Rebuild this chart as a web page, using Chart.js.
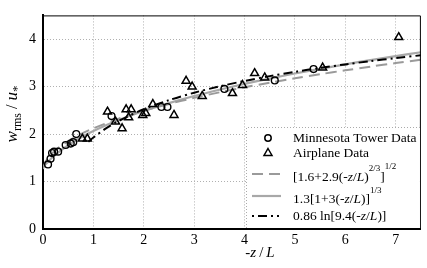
<!DOCTYPE html>
<html>
<head>
<meta charset="utf-8">
<script src="https://cdn.jsdelivr.net/npm/chart.js@4/dist/chart.umd.min.js"></script>
<style>
  html, body { margin: 0; padding: 0; background: #fff; }
  #wrap { width: 427px; height: 268px; position: relative; }
</style>
</head>
<body>
<div id="wrap"><canvas id="wChart"></canvas></div>
<script>
// Minnesota tower data (circles)
const towerX = [0.1, 0.15, 0.18, 0.22, 0.3, 0.45, 0.55, 0.6, 0.66, 1.36, 2.35, 2.47, 3.6, 4.6, 5.37];
const towerY = [1.36, 1.48, 1.6, 1.63, 1.63, 1.77, 1.8, 1.83, 2.0, 2.38, 2.57, 2.57, 2.95, 3.13, 3.37];

// Airplane data (triangles)
const planeX = [0.78, 0.88, 1.28, 1.44, 1.57, 1.65, 1.75, 1.7, 1.98, 2.04, 2.18, 2.6, 2.84, 2.96, 3.16, 3.76, 3.96, 4.2, 4.4, 5.55, 7.06];
const planeY = [1.9, 1.9, 2.47, 2.26, 2.12, 2.52, 2.52, 2.35, 2.4, 2.44, 2.63, 2.4, 3.12, 3.0, 2.8, 2.86, 3.03, 3.28, 3.19, 3.4, 4.04];

// fit curves, values tabulated at these -z/L
const curveX = [0, 0.05, 0.1, 0.2, 0.3, 0.5, 0.75, 1, 1.5, 2, 2.5, 3, 3.5, 4, 4.5, 5, 5.5, 6, 6.5, 7, 7.5];
const fitPowY = [1.265, 1.412, 1.492, 1.610, 1.703, 1.851, 1.999, 2.121, 2.324, 2.491, 2.635, 2.763, 2.878, 2.985, 3.083, 3.175, 3.261, 3.343, 3.421, 3.495, 3.565];
const fitCubeY = [1.300, 1.362, 1.419, 1.521, 1.610, 1.764, 1.926, 2.064, 2.295, 2.487, 2.653, 2.801, 2.934, 3.057, 3.169, 3.276, 3.375, 3.469, 3.558, 3.643, 3.724];
const logX = [0.9, 1, 1.25, 1.5, 2, 2.5, 3, 3.5, 4, 4.5, 5, 5.5, 6, 6.5, 7, 7.5];
const fitLogY = [1.836, 1.927, 2.119, 2.276, 2.523, 2.715, 2.872, 3.004, 3.119, 3.221, 3.311, 3.393, 3.468, 3.537, 3.601, 3.660];

const xTicks = [0, 1, 2, 3, 4, 5, 6, 7];
const yTicks = [0, 1, 2, 3, 4];

const FONT = "'Liberation Serif', 'DejaVu Serif', serif";

function toPoints(xs, ys) {
    return xs.map((x, i) => ({ x: x, y: ys[i] }));
}

function runFont(r, base) {
    const size = r.size || ((r.sup || r.sub) ? Math.round(base * 0.68) : base);
    return (r.italic ? 'italic ' : '') + size + 'px ' + FONT;
}

// draw a line of text made of runs (italic / superscript / subscript)
function drawRuns(ctx, x, y, runs, base) {
    base = base || 13.5;
    ctx.textBaseline = 'middle';
    ctx.textAlign = 'left';
    runs.forEach(r => {
        ctx.font = runFont(r, base);
        let dy = 0;
        if (r.sup) dy = -r.sup;
        if (r.sub) dy = r.sub;
        ctx.fillText(r.t, x, y + dy);
        x += ctx.measureText(r.t).width + (r.gap || 0);
    });
    return x;
}

function runsWidth(ctx, runs, base) {
    base = base || 13.5;
    let w = 0;
    runs.forEach(r => {
        ctx.font = runFont(r, base);
        w += ctx.measureText(r.t).width + (r.gap || 0);
    });
    return w;
}

const extrasPlugin = {
    id: 'extras',
    afterDraw(chart) {
        const ctx = chart.ctx;
        const a = chart.chartArea;
        ctx.save();

        // top and right frame
        ctx.strokeStyle = '#000';
        ctx.lineWidth = 1;
        ctx.beginPath();
        ctx.moveTo(a.left, a.top + 0.5);
        ctx.lineTo(a.right - 0.5, a.top + 0.5);
        ctx.lineTo(a.right - 0.5, a.bottom);
        ctx.stroke();

        // legend box
        const lx = 246, ly = 127, lr = a.right - 1, lb = a.bottom - 1;
        ctx.fillStyle = '#fff';
        ctx.fillRect(lx, ly, lr - lx, lb - ly);
        ctx.strokeStyle = '#aaa';
        ctx.setLineDash([1, 2]);
        ctx.beginPath();
        ctx.moveTo(lx + 0.5, lb);
        ctx.lineTo(lx + 0.5, ly + 0.5);
        ctx.lineTo(lr, ly + 0.5);
        ctx.stroke();
        ctx.setLineDash([]);

        const sx = 268, tx = 293;
        ctx.fillStyle = '#000';
        ctx.strokeStyle = '#000';
        ctx.lineWidth = 1.5;
        // circle
        ctx.beginPath();
        ctx.arc(sx, 138, 3.2, 0, Math.PI * 2);
        ctx.stroke();
        drawRuns(ctx, tx, 138, [{ t: 'Minnesota Tower Data' }]);
        // triangle
        ctx.beginPath();
        ctx.moveTo(sx, 148.5);
        ctx.lineTo(sx + 4, 155.5);
        ctx.lineTo(sx - 4, 155.5);
        ctx.closePath();
        ctx.stroke();
        drawRuns(ctx, tx, 153, [{ t: 'Airplane Data' }]);

        // dashed sample
        ctx.strokeStyle = '#9a9a9a';
        ctx.lineWidth = 2;
        ctx.setLineDash([11, 6]);
        ctx.beginPath();
        ctx.moveTo(252, 174);
        ctx.lineTo(281, 174);
        ctx.stroke();
        ctx.fillStyle = '#000';
        drawRuns(ctx, tx, 177, [
            { t: '[1.6+2.9(-' }, { t: 'z', italic: true }, { t: '/' }, { t: 'L', italic: true },
            { t: ')' }, { t: '2/3', sup: 8 }, { t: ']' }, { t: '1/2', sup: 10 }
        ]);

        // solid sample
        ctx.setLineDash([]);
        ctx.strokeStyle = '#a8a8a8';
        ctx.lineWidth = 2.2;
        ctx.beginPath();
        ctx.moveTo(252, 196);
        ctx.lineTo(281, 196);
        ctx.stroke();
        drawRuns(ctx, tx, 199, [
            { t: '1.3[1+3(-' }, { t: 'z', italic: true }, { t: '/' }, { t: 'L', italic: true },
            { t: ')]' }, { t: '1/3', sup: 8 }
        ]);

        // dash-dot sample
        ctx.strokeStyle = '#000';
        ctx.lineWidth = 2;
        ctx.setLineDash([2, 4, 9, 4, 2, 4, 2, 4]);
        ctx.beginPath();
        ctx.moveTo(252, 216);
        ctx.lineTo(281, 216);
        ctx.stroke();
        ctx.setLineDash([]);
        drawRuns(ctx, tx, 216, [
            { t: '0.86 ln[9.4(-' }, { t: 'z', italic: true }, { t: '/' }, { t: 'L', italic: true }, { t: ')]' }
        ]);

        // x axis title
        const xt = [{ t: '-', italic: true }, { t: 'z', italic: true, gap: 3 }, { t: '/', gap: 3 }, { t: 'L', italic: true }];
        drawRuns(ctx, 260 - runsWidth(ctx, xt, 15) / 2, 253, xt, 15);

        // y axis title (rotated)
        const yt = [{ t: 'w', italic: true, size: 17 }, { t: 'rms', sub: 5, size: 12, gap: 4 }, { t: '/', size: 16, gap: 4 },
                    { t: 'u', italic: true, size: 17 }, { t: '*', sub: 5, size: 13 }];
        ctx.translate(13, 114);
        ctx.rotate(-Math.PI / 2);
        drawRuns(ctx, -runsWidth(ctx, yt, 16) / 2, 0, yt, 16);

        ctx.restore();
    }
};

function buildChart() {
    const ctx = document.getElementById('wChart').getContext('2d');
    return new Chart(ctx, {
        type: 'scatter',
        data: {
            datasets: [
                {
                    label: 'Minnesota Tower Data',
                    data: toPoints(towerX, towerY),
                    pointStyle: 'circle',
                    pointRadius: 3.4,
                    borderColor: '#000',
                    borderWidth: 1.4,
                    backgroundColor: 'rgba(0,0,0,0)',
                },
                {
                    label: 'Airplane Data',
                    data: toPoints(planeX, planeY),
                    pointStyle: 'triangle',
                    pointRadius: 4.6,
                    borderColor: '#000',
                    borderWidth: 1.5,
                    backgroundColor: 'rgba(0,0,0,0)',
                },
                {
                    label: '0.86 ln[9.4(-z/L)]',
                    data: toPoints(logX, fitLogY),
                    showLine: true,
                    pointRadius: 0,
                    borderColor: '#000',
                    borderWidth: 2,
                    borderDash: [9, 4, 2, 4],
                    tension: 0.3,
                },
                {
                    label: '[1.6+2.9(-z/L)^(2/3)]^(1/2)',
                    data: toPoints(curveX, fitPowY),
                    showLine: true,
                    pointRadius: 0,
                    borderColor: '#9a9a9a',
                    borderWidth: 2,
                    borderDash: [11, 6],
                    tension: 0.3,
                },
                {
                    label: '1.3[1+3(-z/L)]^(1/3)',
                    data: toPoints(curveX, fitCubeY),
                    showLine: true,
                    pointRadius: 0,
                    borderColor: '#a8a8a8',
                    borderWidth: 2.2,
                    tension: 0.3,
                },
            ],
        },
        options: {
            responsive: true,
            maintainAspectRatio: false,
            animation: false,
            layout: { padding: { top: 1, right: 2, left: 0, bottom: 0 } },
            plugins: {
                legend: { display: false },
                tooltip: { enabled: false },
            },
            scales: {
                x: {
                    type: 'linear',
                    min: 0,
                    max: 7.5,
                    afterFit: s => { s.height = 39; },
                    afterBuildTicks: s => { s.ticks = xTicks.map(v => ({ value: v })); },
                    ticks: {
                        color: '#000',
                        padding: 3,
                        maxRotation: 0,
                        font: { family: FONT, size: 14 },
                    },
                    grid: { color: '#b0b0b0', drawTicks: false },
                    border: { display: true, color: '#000', width: 2, dash: [1, 2] },
                },
                y: {
                    type: 'linear',
                    min: 0,
                    max: 4.5,
                    afterFit: s => { s.width = 43; },
                    afterBuildTicks: s => { s.ticks = yTicks.map(v => ({ value: v })); },
                    ticks: {
                        color: '#000',
                        padding: 7,
                        font: { family: FONT, size: 14 },
                    },
                    grid: { color: '#b0b0b0', drawTicks: false },
                    border: { display: true, color: '#000', width: 2, dash: [1, 2] },
                },
            },
        },
        plugins: [extrasPlugin],
    });
}

document.addEventListener('DOMContentLoaded', function () {
    buildChart();
});
</script>
</body>
</html>
